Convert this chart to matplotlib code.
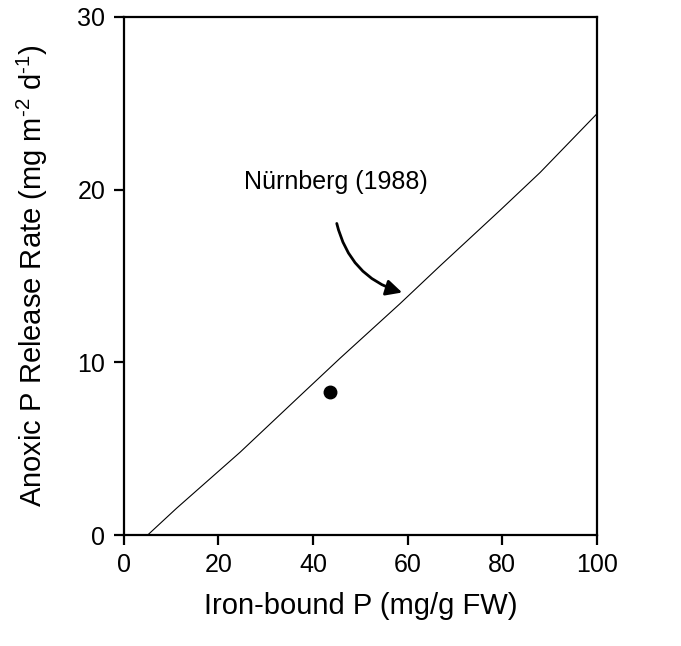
import matplotlib
matplotlib.use("Agg")
import matplotlib.pyplot as plt

plt.rcParams['font.family'] = ['Liberation Sans', 'DejaVu Sans']
plt.rcParams['mathtext.fontset'] = 'custom'
plt.rcParams['mathtext.rm'] = 'Liberation Sans'
plt.rcParams['mathtext.it'] = 'Liberation Sans'
plt.rcParams['mathtext.default'] = 'regular'

# Nürnberg (1988) relation
line_x = [5.1, 11.2, 24.6, 37.3, 45.7, 58.4, 66.9, 79.5, 88.0, 100.0]
line_y = [0.0, 1.55, 4.79, 8.07, 10.23, 13.4, 15.6, 18.8, 21.0, 24.4]

# Observed point
obs_x = [43.7]
obs_y = [8.3]

x_ticks = [0, 20, 40, 60, 80, 100]
y_ticks = [0, 10, 20, 30]

fig = plt.figure(figsize=(6.81, 6.46), dpi=100)
ax = fig.add_axes([0.1814, 0.1718, 0.6953, 0.8019])

ax.plot(line_x, line_y, color='black', lw=0.8, clip_on=False)
ax.plot(obs_x, obs_y, 'o', color='black', markersize=9)

ax.set_xlim(0, 100)
ax.set_ylim(0, 30)
ax.set_xticks(x_ticks)
ax.set_yticks(y_ticks)
for s in ax.spines.values():
    s.set_linewidth(1.6)
ax.tick_params(direction='out', length=7, width=1.6, labelsize=18, pad=6)

ax.set_xlabel('Iron-bound P (mg/g FW)', fontsize=21, labelpad=11)
ax.set_ylabel(r'Anoxic P Release Rate (mg m$^{\text{-2}}$ d$^{\text{-1}}$)',
              fontsize=21, labelpad=20)

ax.text(44.9, 20.45, 'Nürnberg (1988)', fontsize=18, ha='center', va='center')
ax.annotate('', xy=(59.4, 14.0), xytext=(44.9, 18.2),
            arrowprops=dict(arrowstyle='-|>', color='black', lw=2,
                            mutation_scale=24,
                            connectionstyle='arc3,rad=0.3'))

fig.savefig('out.png', dpi=100)
